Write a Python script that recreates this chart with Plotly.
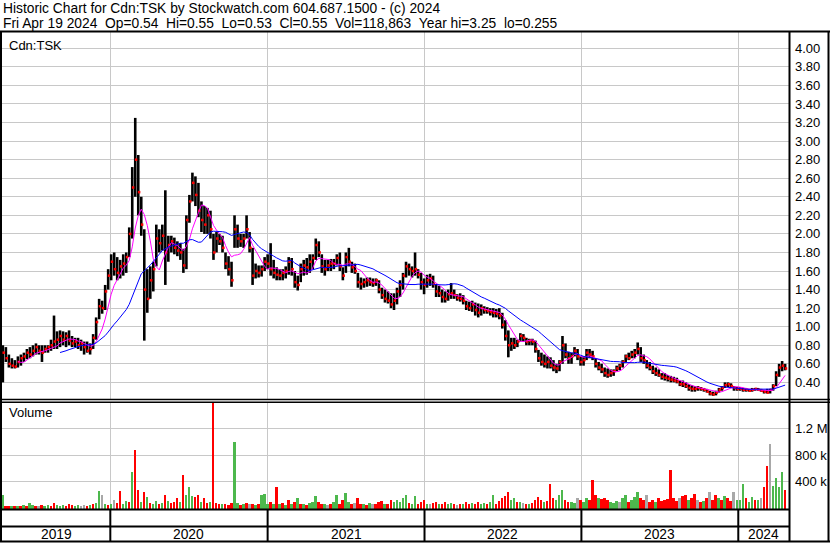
import pandas as pd
import plotly.graph_objects as go

W, H = 830, 543


def fx(px):
    return px / W


def fy(px):
    return 1 - px / H


# ---------------- data (weekly bars) ----------------
first_week = "2019-04-26"

high = [
    0.80, 0.78, 0.70, 0.66, 0.64, 0.68, 0.70, 0.72, 0.76, 0.78,
    0.80, 0.82, 0.80, 0.80, 0.80, 0.80, 0.86, 1.12, 0.95, 0.96,
    0.95, 0.94, 0.96, 0.90, 0.88, 0.88, 0.86, 0.84, 0.84, 0.82,
    0.92, 1.10, 1.30, 1.28, 1.45, 1.62, 1.78, 1.80, 1.75, 1.72,
    1.78, 1.80, 2.07, 2.72, 3.25, 2.85, 2.40, 2.05, 1.62, 1.65,
    1.70, 2.10, 2.05, 2.10, 2.47, 1.98, 1.98, 1.96, 1.92, 1.90,
    1.84, 2.20, 2.42, 2.66, 2.62, 2.55, 2.35, 2.30, 2.28, 2.25,
    2.00, 2.02, 2.00, 1.98, 1.80, 1.76, 1.70, 2.20, 2.10, 2.00,
    2.00, 2.20, 2.02, 1.85, 1.68, 1.66, 1.66, 1.75, 1.78, 1.90,
    1.72, 1.64, 1.62, 1.62, 1.65, 1.75, 1.74, 1.60, 1.55, 1.68,
    1.72, 1.74, 1.78, 1.78, 1.95, 1.92, 1.78, 1.72, 1.72, 1.73,
    1.73, 1.78, 1.80, 1.64, 1.80, 1.85, 1.70, 1.68, 1.58, 1.53,
    1.52, 1.53, 1.53, 1.52, 1.52, 1.50, 1.42, 1.40, 1.38, 1.36,
    1.36, 1.42, 1.50, 1.58, 1.70, 1.68, 1.65, 1.80, 1.62, 1.58,
    1.52, 1.56, 1.57, 1.55, 1.46, 1.44, 1.40, 1.38, 1.40, 1.47,
    1.40, 1.35, 1.36, 1.34, 1.28, 1.27, 1.28, 1.26, 1.25, 1.24,
    1.22, 1.21, 1.20, 1.20, 1.19, 1.20, 1.15, 1.07, 0.96, 0.88,
    0.88, 0.86, 0.93, 0.92, 0.88, 0.87, 0.87, 0.85, 0.75, 0.72,
    0.70, 0.68, 0.67, 0.64, 0.60, 0.64, 0.90, 0.82, 0.73, 0.72,
    0.78, 0.76, 0.68, 0.68, 0.76, 0.76, 0.74, 0.66, 0.62, 0.60,
    0.56, 0.55, 0.54, 0.54, 0.58, 0.60, 0.64, 0.70, 0.72, 0.74,
    0.76, 0.83, 0.78, 0.70, 0.64, 0.62, 0.58, 0.56, 0.54, 0.50,
    0.50, 0.48, 0.47, 0.46, 0.45, 0.42, 0.42, 0.40, 0.38, 0.37,
    0.36, 0.36, 0.35, 0.34, 0.33, 0.31, 0.30, 0.31, 0.34,
    0.36, 0.40, 0.40, 0.39, 0.36, 0.35, 0.35, 0.34, 0.34, 0.33,
    0.34, 0.34, 0.34, 0.33, 0.32, 0.33, 0.33, 0.38, 0.52, 0.60, 0.63, 0.60,
]

low = [
    0.40, 0.62, 0.56, 0.55, 0.55, 0.56, 0.58, 0.62, 0.65, 0.66,
    0.68, 0.70, 0.70, 0.62, 0.72, 0.72, 0.74, 0.76, 0.76, 0.78,
    0.80, 0.78, 0.80, 0.78, 0.78, 0.76, 0.74, 0.70, 0.72, 0.70,
    0.76, 0.86, 1.08, 1.14, 1.18, 1.40, 1.50, 1.55, 1.50, 1.52,
    1.55, 1.58, 1.75, 1.95, 2.40, 2.20, 1.98, 0.85, 1.15, 1.30,
    1.38, 1.65, 1.80, 1.82, 1.45, 1.70, 1.80, 1.78, 1.76, 1.72,
    1.58, 1.62, 2.12, 2.35, 2.30, 2.18, 2.02, 2.00, 2.00, 1.95,
    1.72, 1.80, 1.88, 1.80, 1.62, 1.55, 1.43, 1.85, 1.85, 1.86,
    1.85, 1.95, 1.80, 1.45, 1.52, 1.53, 1.54, 1.60, 1.62, 1.55,
    1.52, 1.50, 1.50, 1.50, 1.52, 1.56, 1.55, 1.42, 1.39, 1.48,
    1.55, 1.56, 1.58, 1.62, 1.72, 1.75, 1.58, 1.55, 1.60, 1.60,
    1.62, 1.66, 1.60, 1.50, 1.58, 1.65, 1.58, 1.57, 1.42, 1.40,
    1.42, 1.43, 1.44, 1.43, 1.44, 1.36, 1.30, 1.26, 1.25, 1.20,
    1.18, 1.24, 1.32, 1.40, 1.53, 1.55, 1.53, 1.55, 1.52, 1.40,
    1.35, 1.42, 1.44, 1.42, 1.32, 1.32, 1.26, 1.26, 1.28, 1.30,
    1.30, 1.28, 1.27, 1.24, 1.18, 1.17, 1.16, 1.12, 1.10, 1.12,
    1.14, 1.14, 1.12, 1.10, 1.10, 1.08, 0.98, 0.85, 0.67, 0.74,
    0.76, 0.78, 0.84, 0.84, 0.80, 0.80, 0.80, 0.72, 0.62, 0.58,
    0.56, 0.55, 0.55, 0.52, 0.50, 0.52, 0.60, 0.66, 0.60, 0.60,
    0.68, 0.64, 0.58, 0.58, 0.64, 0.66, 0.64, 0.56, 0.53, 0.50,
    0.46, 0.45, 0.46, 0.47, 0.52, 0.53, 0.56, 0.62, 0.64, 0.66,
    0.66, 0.70, 0.62, 0.60, 0.55, 0.53, 0.49, 0.47, 0.46, 0.43,
    0.42, 0.41, 0.40, 0.40, 0.39, 0.36, 0.35, 0.34, 0.31, 0.30,
    0.30, 0.31, 0.31, 0.30, 0.29, 0.26, 0.255, 0.26, 0.29,
    0.31, 0.34, 0.35, 0.34, 0.31, 0.31, 0.31, 0.30, 0.30, 0.30,
    0.30, 0.31, 0.31, 0.30, 0.28, 0.28, 0.28, 0.31, 0.36, 0.46, 0.52, 0.53,
]

close = [
    0.72, 0.66, 0.60, 0.58, 0.57, 0.62, 0.66, 0.68, 0.72, 0.70,
    0.74, 0.78, 0.74, 0.72, 0.76, 0.78, 0.80, 0.84, 0.86, 0.90,
    0.86, 0.90, 0.85, 0.82, 0.84, 0.80, 0.82, 0.78, 0.74, 0.76,
    0.88, 1.05, 1.22, 1.20, 1.38, 1.55, 1.70, 1.62, 1.58, 1.65,
    1.68, 1.75, 2.00, 2.50, 2.80, 2.45, 2.10, 1.40, 1.30, 1.50,
    1.62, 1.95, 1.90, 1.98, 1.80, 1.88, 1.92, 1.85, 1.82, 1.80,
    1.66, 2.15, 2.35, 2.55, 2.42, 2.25, 2.15, 2.10, 2.20, 2.05,
    1.80, 1.95, 1.92, 1.85, 1.68, 1.62, 1.50, 2.05, 1.95, 1.92,
    1.95, 2.05, 1.85, 1.55, 1.60, 1.58, 1.62, 1.70, 1.68, 1.62,
    1.58, 1.56, 1.55, 1.58, 1.60, 1.70, 1.62, 1.48, 1.45, 1.62,
    1.66, 1.64, 1.70, 1.74, 1.88, 1.80, 1.65, 1.62, 1.66, 1.68,
    1.68, 1.74, 1.65, 1.55, 1.75, 1.70, 1.64, 1.60, 1.48, 1.46,
    1.48, 1.50, 1.48, 1.47, 1.50, 1.40, 1.34, 1.30, 1.28, 1.24,
    1.28, 1.38, 1.45, 1.55, 1.65, 1.62, 1.60, 1.62, 1.56, 1.48,
    1.45, 1.50, 1.52, 1.46, 1.38, 1.36, 1.32, 1.30, 1.35, 1.36,
    1.34, 1.31, 1.30, 1.28, 1.22, 1.20, 1.24, 1.18, 1.15, 1.20,
    1.18, 1.17, 1.16, 1.15, 1.14, 1.12, 1.02, 0.90, 0.80, 0.82,
    0.80, 0.84, 0.90, 0.88, 0.84, 0.85, 0.84, 0.76, 0.66, 0.62,
    0.60, 0.62, 0.58, 0.56, 0.55, 0.62, 0.80, 0.70, 0.66, 0.68,
    0.74, 0.68, 0.62, 0.64, 0.72, 0.70, 0.68, 0.60, 0.56, 0.54,
    0.50, 0.48, 0.50, 0.52, 0.55, 0.58, 0.62, 0.68, 0.66, 0.70,
    0.72, 0.76, 0.66, 0.64, 0.58, 0.56, 0.52, 0.50, 0.48, 0.46,
    0.45, 0.44, 0.43, 0.42, 0.41, 0.38, 0.38, 0.36, 0.34, 0.33,
    0.33, 0.34, 0.33, 0.32, 0.30, 0.28, 0.27, 0.29, 0.32,
    0.34, 0.37, 0.38, 0.36, 0.34, 0.33, 0.33, 0.32, 0.32, 0.31,
    0.32, 0.33, 0.32, 0.31, 0.30, 0.29, 0.32, 0.36, 0.48, 0.56, 0.58, 0.55,
]

# peak daily volume in each week, thousands of shares
volume_k = [
    200, 40, 30, 30, 40, 30, 40, 50, 40, 80,
    50, 40, 30, 50, 40, 50, 40, 80, 50, 40,
    50, 40, 60, 50, 40, 50, 40, 50, 40, 50,
    60, 80, 260, 200, 60, 50, 60, 120, 80, 260,
    60, 110, 100, 540, 870, 280, 100, 250, 170, 80,
    60, 110, 70, 80, 200, 110, 80, 100, 150, 90,
    500, 200, 320, 180, 170, 200, 100, 150, 80, 100,
    1700, 80, 70, 60, 70, 50, 80, 1000, 80, 50,
    60, 80, 60, 70, 50, 60, 200, 220, 70, 100,
    60, 320, 60, 80, 50, 120, 70, 90, 150, 60,
    70, 50, 80, 100, 180, 90, 60, 70, 50, 60,
    90, 200, 70, 120, 230, 100, 60, 80, 150, 70,
    60, 50, 80, 70, 60, 90, 110, 70, 60, 130,
    100, 120, 90, 150, 200, 80, 70, 180, 60, 90,
    120, 70, 60, 80, 90, 60, 70, 100, 60, 80,
    60, 50, 70, 60, 90, 60, 80, 70, 100, 60,
    80, 60, 90, 200, 70, 110, 150, 180, 250, 120,
    150, 90, 100, 80, 70, 60, 80, 120, 170, 130,
    90, 110, 370, 150, 120, 200, 280, 130, 90, 100,
    80, 150, 120, 100, 160, 130, 430, 200, 160, 140,
    150, 120, 100, 80, 110, 90, 150, 200, 100, 120,
    170, 250, 160, 120, 200, 100, 130, 90, 160, 110,
    120, 140, 580, 150, 110, 160, 180, 200, 130, 150,
    220, 120, 100, 110, 160, 250, 130, 200, 150,
    120, 180, 150, 110, 240, 130, 120, 370, 150, 100,
    170, 120, 130, 150, 320, 630, 960, 340, 460, 320, 550, 280,
]

# u = up (green), d = down (red), n = unchanged (grey); one letter per week
vol_dir_groups = [
    "uddudududu", "udnduudduu", "uddduunndu", "duunudundd",
    "uududdudud", "uudududddu", "duuudduddu", "ddduddduud",
    "udnduduuud", "ududududud", "uduuuddund", "uudduudndd",
    "udundddudd", "uuuuuduudd", "dunddudduu", "dndudduddu",
    "uduudddddu", "udundudddd", "uddduuuddu", "unduudddud",
    "dduuunuudu", "uuddnddudd", "dddddnddud", "dndudnddu",
    "duddnuuudu", "udunddnuuuud",
]
vol_dir = list("".join(vol_dir_groups))

ma_fast_weeks = 6
ma_slow_weeks = 20
year_starts = ["2020-01-01", "2021-01-01", "2022-01-01", "2023-01-01", "2024-01-01"]
year_labels = ["2019", "2020", "2021", "2022", "2023", "2024"]
price_ticks = [0.4, 0.6, 0.8, 1.0, 1.2, 1.4, 1.6, 1.8, 2.0, 2.2, 2.4, 2.6, 2.8,
               3.0, 3.2, 3.4, 3.6, 3.8, 4.0]
vol_ticks = [400000, 800000, 1200000]
vol_tick_text = ["400 k", "800 k", "1.2 M"]

GAP = "\u00a0\u00a0"
title_1 = "Historic Chart for Cdn:TSK by Stockwatch.com 604.687.1500 - (c) 2024"
title_2 = GAP.join(["Fri Apr 19 2024", "Op=0.54", "Hi=0.55", "Lo=0.53",
                    "Cl=0.55", "Vol=118,863", "Year hi=3.25", "lo=0.255"])

# ---------------- build ----------------
n = len(close)
vol_dir = (vol_dir + ["n"] * n)[:n]
dates = pd.date_range(first_week, periods=n, freq="7D")
volume = [v * 1000 for v in volume_k[:n]]

hl_x, hl_y = [], []
for d, h, l in zip(dates, high, low):
    hl_x += [d, d, None]
    hl_y += [l, h, None]

s = pd.Series(close, index=dates)
ma_fast = s.rolling(ma_fast_weeks).mean()
ma_slow = s.rolling(ma_slow_weeks).mean()

col_map = {"u": "#4DB84D", "d": "#FF0000", "n": "#A8A8A8"}
vcolors = [col_map[c] for c in vol_dir]

FONT = "Liberation Sans, Arial, sans-serif"
x_range = [pd.Timestamp("2019-04-24"), pd.Timestamp("2024-04-28")]

fig = go.Figure()
fig.add_trace(go.Scatter(x=hl_x, y=hl_y, mode="lines",
                         line=dict(color="black", width=2.6),
                         xaxis="x", yaxis="y", hoverinfo="skip"))
fig.add_trace(go.Scatter(x=dates + pd.Timedelta(days=2), y=close, mode="markers",
                         marker=dict(symbol="square", size=2.5, color="#FF0000",
                                     line=dict(width=0)),
                         xaxis="x", yaxis="y"))
fig.add_trace(go.Scatter(x=dates, y=ma_fast, mode="lines",
                         line=dict(color="#FF00FF", width=1),
                         xaxis="x", yaxis="y"))
fig.add_trace(go.Scatter(x=dates, y=ma_slow, mode="lines",
                         line=dict(color="#0000FF", width=1),
                         xaxis="x", yaxis="y"))
fig.add_trace(go.Bar(x=dates, y=volume, marker=dict(color=vcolors, line=dict(width=0)),
                     width=4.6 * 86400000, xaxis="x2", yaxis="y2"))

grid = "#C8C8C8"
xcommon = dict(type="date", range=x_range, domain=[fx(2), fx(789)],
               tickvals=year_starts, showticklabels=False, ticks="",
               showgrid=True, gridcolor=grid, gridwidth=1,
               zeroline=False, showline=False)

fig.update_layout(
    width=W, height=H,
    margin=dict(l=0, r=0, t=0, b=0),
    paper_bgcolor="white", plot_bgcolor="white",
    showlegend=False, bargap=0,
    font=dict(family=FONT, size=13, color="black"),
    xaxis=dict(anchor="y", **xcommon),
    xaxis2=dict(anchor="y2", matches="x", **xcommon),
    yaxis=dict(domain=[fy(400), fy(32)], anchor="x", range=[0.2101, 4.1756],
               side="right", tickvals=price_ticks,
               ticktext=[f"{v:.2f}" for v in price_ticks],
               ticks="", ticklabelstandoff=5,
               showgrid=True, gridcolor=grid, gridwidth=1,
               zeroline=False, showline=False,
               tickfont=dict(family=FONT, size=13, color="black")),
    yaxis2=dict(domain=[fy(509), fy(402)], anchor="x2", range=[-7500, 1594000],
                side="right", tickvals=vol_ticks, ticktext=vol_tick_text,
                ticks="", ticklabelstandoff=5,
                showgrid=True, gridcolor=grid, gridwidth=1,
                zeroline=False, showline=False,
                tickfont=dict(family=FONT, size=13, color="black")),
)

shapes = []


def hline(y, x0=0, x1=1, w=2):
    shapes.append(dict(type="line", xref="paper", yref="paper", x0=x0, x1=x1,
                       y0=fy(y), y1=fy(y), line=dict(color="black", width=w),
                       layer="above"))


def vline(x, y0, y1, w=2):
    shapes.append(dict(type="line", xref="paper", yref="paper", x0=fx(x), x1=fx(x),
                       y0=fy(y0), y1=fy(y1), line=dict(color="black", width=w),
                       layer="above"))


hline(31.5)
hline(399.5, w=1.5)
hline(402.2, w=1.5)
hline(509.5, x1=fx(789))
hline(526.5, x1=fx(789))
hline(541.5)
vline(1, 31, 542)
vline(789.5, 31, 542)
vline(828.5, 31, 542)
for ys in year_starts:
    shapes.append(dict(type="line", xref="x", yref="paper", x0=ys, x1=ys,
                       y0=fy(509), y1=fy(542), line=dict(color="black", width=2),
                       layer="above"))
fig.update_layout(shapes=shapes)

TFONT = dict(family=FONT, size=13.8, color="black")
LFONT = dict(family=FONT, size=13, color="black")
annotations = [
    dict(text=title_1, x=fx(1), y=fy(9), font=TFONT),
    dict(text=title_2, x=fx(1), y=fy(23.5), font=TFONT),
    dict(text="Cdn:TSK", x=fx(7), y=fy(45), font=LFONT),
    dict(text="Volume", x=fx(7), y=fy(413), font=LFONT),
]
annotations = [dict(a, xref="paper", yref="paper", xanchor="left", yanchor="middle",
                    showarrow=False) for a in annotations]

bounds = [x_range[0]] + [pd.Timestamp(y) for y in year_starts] + [x_range[1]]
for lbl, a, b in zip(year_labels, bounds[:-1], bounds[1:]):
    annotations.append(dict(text=lbl, x=a + (b - a) / 2, xref="x", y=fy(534), yref="paper",
                            xanchor="center", yanchor="middle", showarrow=False,
                            font=TFONT))
fig.update_layout(annotations=annotations)

fig.write_html("out.html", config={"displayModeBar": False},
               post_script="document.body.style.margin='0px';document.body.style.overflow='hidden';")
